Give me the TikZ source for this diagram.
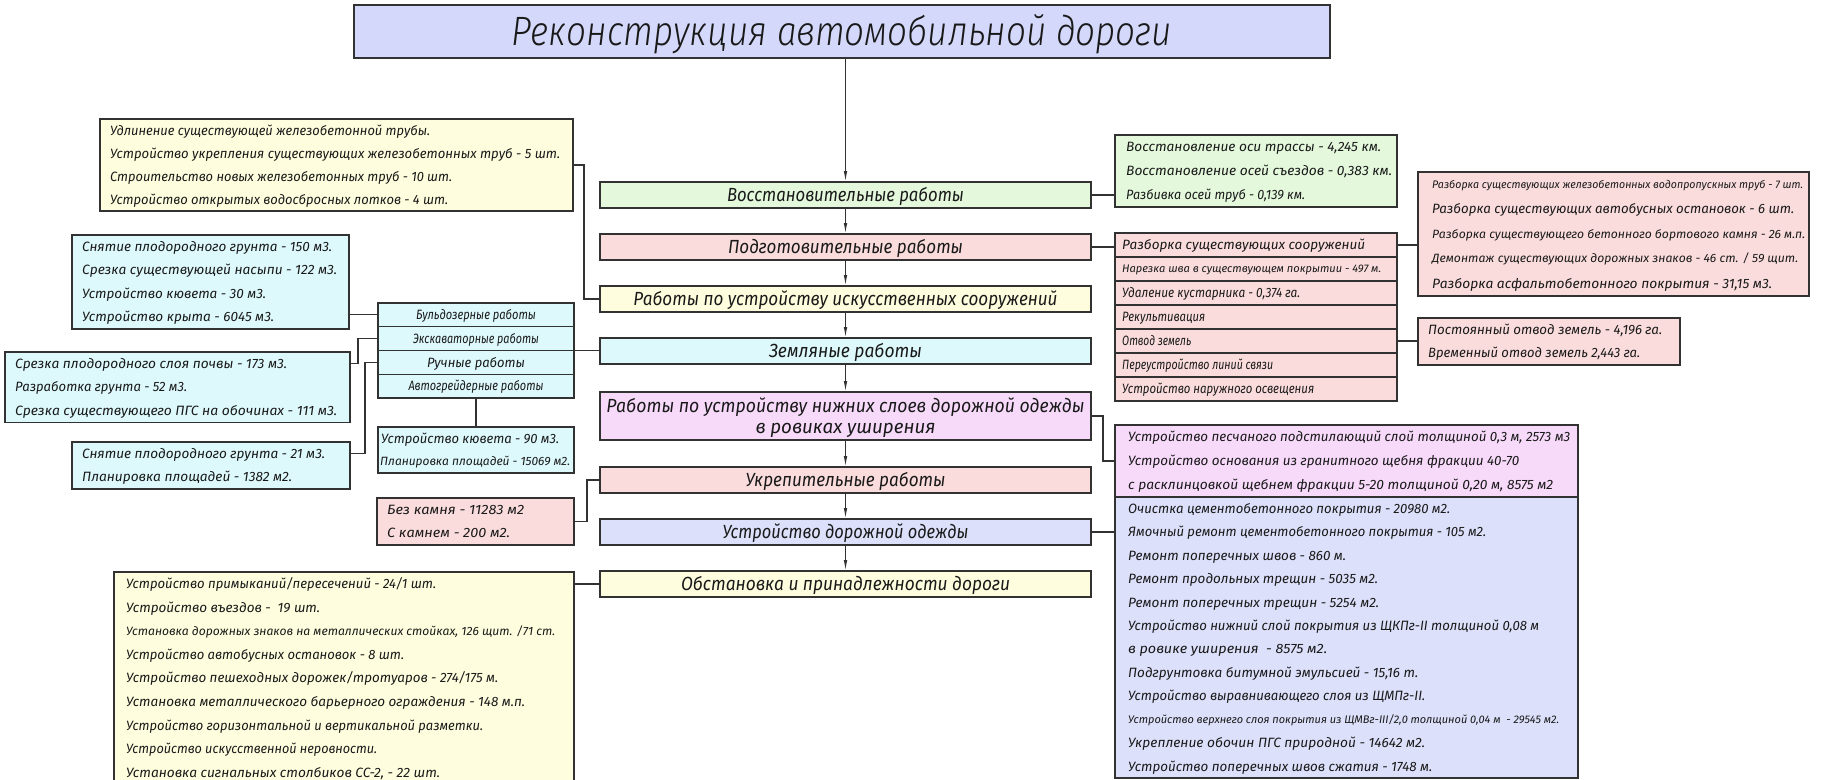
\documentclass[tikz,border=0pt]{standalone}
\usepackage{fontspec}
\usepackage{graphicx}
\IfFontExistsTF{Fira Sans Italic}{\setmainfont{Fira Sans Italic}}{\setmainfont{Fira Sans}[FakeSlant=0.2]}
\IfFontExistsTF{Fira Sans Light Italic}{\newfontfamily\lightf{Fira Sans Light Italic}}{\newfontfamily\lightf{Fira Sans}[FakeSlant=0.2]}
\usetikzlibrary{arrows.meta}
\definecolor{lc}{RGB}{50,50,50}
\definecolor{cti}{RGB}{212,216,250}
\definecolor{cgr}{RGB}{228,248,220}
\definecolor{cpk}{RGB}{250,220,220}
\definecolor{cye}{RGB}{254,254,222}
\definecolor{ccy}{RGB}{221,249,252}
\definecolor{cmg}{RGB}{247,218,250}
\definecolor{clv}{RGB}{220,224,250}
\definecolor{tc}{RGB}{25,25,25}
\newcommand\fw[2]{\resizebox{#1pt}{\height}{#2}}
\begin{document}
\begin{tikzpicture}[x=1pt,y=-1pt,
  bx/.style={draw=lc, line width=1.2pt, inner sep=0pt, outer sep=0pt, anchor=north west, rectangle},
  mtx/.style={font=\fontsize{19}{21}\selectfont, text height=13pt, text depth=0pt, text=tc, inner sep=0pt},
  ln/.style={inner sep=0pt, anchor=west, font=\fontsize{13.5}{15}\selectfont, text height=9.4pt, text depth=0pt, text=tc},
  sm/.style={ln, font=\fontsize{11}{13}\selectfont, text height=7.6pt},
  md/.style={ln, font=\fontsize{12}{14}\selectfont, text height=8.3pt},
  cell/.style={bx, minimum width=196, minimum height=23.75, font=\fontsize{13.5}{15}\selectfont, text height=9.4pt, text depth=0pt, text=tc},
  plcell/.style={bx, fill=cpk, minimum width=282, minimum height=24},
  con/.style={draw=lc, line width=1.2pt},
  arr/.style={con, -{Latex[length=11pt, width=3.6pt]}}
]
\useasboundingbox (0,0) rectangle (1822,779);
\fill[white] (0,0) rectangle (1822,779);

% title
\node[bx, fill=cti, minimum width=976, minimum height=53, font=\lightf\fontsize{41}{45}\selectfont, text height=28pt, text depth=0pt, text=tc] (T) at (354,5) {\fw{660}{Реконструкция автомобильной дороги}};

% main column
\node[bx, fill=cgr, minimum width=491, minimum height=26, mtx] (m1) at (600,182) {\fw{237}{Восстановительные работы}};
\node[bx, fill=cpk, minimum width=491, minimum height=26, mtx] (m2) at (600,234) {\fw{235}{Подготовительные работы}};
\node[bx, fill=cye, minimum width=491, minimum height=26, mtx] (m3) at (600,286) {\fw{424}{Работы по устройству искусственных сооружений}};
\node[bx, fill=ccy, minimum width=491, minimum height=26, mtx] (m4) at (600,338) {\fw{153}{Земляные работы}};
\node[bx, fill=cmg, minimum width=491, minimum height=48] (m5) at (600,392) {};
\node[mtx] (m5a) at (845.5,406) {\fw{478}{Работы по устройству нижних слоев дорожной одежды}};
\node[mtx] (m5b) at (845.5,427) {\fw{180}{в ровиках уширения}};
\node[bx, fill=cpk, minimum width=491, minimum height=26, mtx] (m6) at (600,467) {\fw{200}{Укрепительные работы}};
\node[bx, fill=clv, minimum width=491, minimum height=26, mtx] (m7) at (600,519) {\fw{246}{Устройство дорожной одежды}};
\node[bx, fill=cye, minimum width=491, minimum height=26, mtx] (m8) at (600,571) {\fw{329}{Обстановка и принадлежности дороги}};

\draw[arr] (T.south -| m1.north) -- (m1.north);
\draw[arr] (m1.south) -- (m2.north);
\draw[arr] (m2.south) -- (m3.north);
\draw[arr] (m3.south) -- (m4.north);
\draw[arr] (m4.south) -- (m5.north);
\draw[arr] (m5.south) -- (m6.north);
\draw[arr] (m6.south) -- (m7.north);
\draw[arr] (m7.south) -- (m8.north);

% left: artificial structures
\node[bx, fill=cye, minimum width=473, minimum height=92] (LY) at (100,119) {};
\node[ln] (ly1) at (110,130.5) {\fw{320}{Удлинение существующей железобетонной трубы.}};
\node[ln] (ly2) at (110,153.5) {\fw{450}{Устройство укрепления существующих железобетонных труб - 5 шт.}};
\node[ln] (ly3) at (110,176.5) {\fw{342}{Строительство новых железобетонных труб - 10 шт.}};
\node[ln] (ly4) at (110,199.5) {\fw{338}{Устройство открытых водосбросных лотков - 4 шт.}};
\draw[con] (LY.east) -- ++(11,0) |- (m3.west);

% left: earthworks
\node[cell, fill=ccy] (ew1) at (378,303) {\fw{120}{Бульдозерные работы}};
\node[cell, fill=ccy] (ew2) at (378,326.75) {\fw{126}{Экскаваторные работы}};
\node[cell, fill=ccy] (ew3) at (378,350.5) {\fw{98}{Ручные работы}};
\node[cell, fill=ccy] (ew4) at (378,374.25) {\fw{135}{Автогрейдерные работы}};
\draw[con] (ew2.south east) -- (ew2.south east -| m4.west);

\node[bx, fill=ccy, minimum width=277, minimum height=94] (CB1) at (72,235) {};
\node[ln] (cb1a) at (82,246.75) {\fw{250}{Снятие плодородного грунта - 150 м3.}};
\node[ln] (cb1b) at (82,270.25) {\fw{255}{Срезка существующей насыпи - 122 м3.}};
\node[ln] (cb1c) at (82,293.75) {\fw{184}{Устройство кювета - 30 м3.}};
\node[ln] (cb1d) at (82,317.25) {\fw{192}{Устройство крыта - 6045 м3.}};
\draw[con] (ew1.west) -- (ew1.west -| CB1.east);

\node[bx, fill=ccy, minimum width=345, minimum height=70.5] (CB2) at (5,352) {};
\node[ln] (cb2a) at (15,363.75) {\fw{272}{Срезка плодородного слоя почвы - 173 м3.}};
\node[ln] (cb2b) at (15,387.25) {\fw{172}{Разработка грунта - 52 м3.}};
\node[ln] (cb2c) at (15,410.75) {\fw{322}{Срезка существующего ПГС на обочинах - 111 м3.}};
\draw[con] (ew2.west) -- ++(-20,0) |- (cb2a -| CB2.east);

\node[bx, fill=ccy, minimum width=278, minimum height=47] (CB3) at (72,442) {};
\node[ln] (cb3a) at (82,453.75) {\fw{243}{Снятие плодородного грунта - 21 м3.}};
\node[ln] (cb3b) at (82,477.25) {\fw{210}{Планировка площадей - 1382 м2.}};
\draw[con] (ew3.west) -- ++(-13,0) |- (cb3a -| CB3.east);

\node[bx, fill=ccy, minimum width=196, minimum height=46] (CB4) at (378,427) {};
\node[ln] (cb4a) at (381,438.5) {\fw{178}{Устройство кювета - 90 м3.}};
\node[md] (cb4b) at (380,461.5) {\fw{190}{Планировка площадей - 15069 м2.}};
\draw[con] (ew4.south) -- (CB4.north);

% left: strengthening
\node[bx, fill=cpk, minimum width=197, minimum height=47] (PB) at (377,498) {};
\node[ln] (pba) at (387,509.75) {\fw{137}{Без камня - 11283 м2}};
\node[ln] (pbb) at (387,533.25) {\fw{123}{С камнем - 200 м2.}};
\draw[con] (PB.east) -- ++(13,0) |- (m6.west);

% left: road furniture
\node[bx, fill=cye, minimum width=460, minimum height=213] (YB) at (114,572) {};
\node[ln] (yb1) at (126,583.8) {\fw{310}{Устройство примыканий/пересечений - 24/1 шт.}};
\node[ln] (yb2) at (126,607.4) {\fw{194}{Устройство въездов -~~19 шт.}};
\node[md] (yb3) at (126,631) {\fw{429}{Установка дорожных знаков на металлических стойках, 126 щит. /71 ст.}};
\node[ln] (yb4) at (126,654.6) {\fw{278}{Устройство автобусных остановок - 8 шт.}};
\node[ln] (yb5) at (126,678.2) {\fw{372}{Устройство пешеходных дорожек/тротуаров - 274/175 м.}};
\node[ln] (yb6) at (126,701.8) {\fw{399}{Установка металлического барьерного ограждения - 148 м.п.}};
\node[ln] (yb7) at (126,725.4) {\fw{357}{Устройство горизонтальной и вертикальной разметки.}};
\node[ln] (yb8) at (126,749) {\fw{251}{Устройство искусственной неровности.}};
\node[ln] (yb9) at (126,772.6) {\fw{314}{Установка сигнальных столбиков СС-2, - 22 шт.}};
\draw[con] (m8.west) -- (m8.west -| YB.east);

% right: restoration
\node[bx, fill=cgr, minimum width=282, minimum height=72] (GR) at (1115,135) {};
\node[ln] (gr1) at (1126,147) {\fw{255}{Восстановление оси трассы - 4,245 км.}};
\node[ln] (gr2) at (1126,171) {\fw{266}{Восстановление осей съездов - 0,383 км.}};
\node[ln] (gr3) at (1126,195) {\fw{179}{Разбивка осей труб - 0,139 км.}};
\draw[con] (m1.east) -- (m1.east -| GR.west);

% right: preparatory
\node[plcell] (pl1) at (1115,233) {};
\node[plcell] (pl2) at (1115,257) {};
\node[plcell] (pl3) at (1115,281) {};
\node[plcell] (pl4) at (1115,305) {};
\node[plcell] (pl5) at (1115,329) {};
\node[plcell] (pl6) at (1115,353) {};
\node[plcell] (pl7) at (1115,377) {};
\node[ln] (plt1) at (1122,245) {\fw{243}{Разборка существующих сооружений}};
\node[sm] (plt2) at (1122,269) {\fw{259}{Нарезка шва в существующем покрытии - 497 м.}};
\node[ln] (plt3) at (1122,293) {\fw{178}{Удаление кустарника - 0,374 га.}};
\node[ln] (plt4) at (1122,317) {\fw{83}{Рекультивация}};
\node[ln] (plt5) at (1122,341) {\fw{69}{Отвод земель}};
\node[ln] (plt6) at (1122,365) {\fw{151}{Переустройство линий связи}};
\node[ln] (plt7) at (1122,389) {\fw{192}{Устройство наружного освещения}};
\draw[con] (m2.east) -- (m2.east -| pl1.west);

\node[bx, fill=cpk, minimum width=391, minimum height=124] (PT) at (1418,172) {};
\node[sm] (pt1) at (1432,184.4) {\fw{371}{Разборка существующих железобетонных водопропускных труб - 7 шт.}};
\node[ln] (pt2) at (1432,209.2) {\fw{362}{Разборка существующих автобусных остановок - 6 шт.}};
\node[md] (pt3) at (1432,234) {\fw{373}{Разборка существующего бетонного бортового камня - 26 м.п.}};
\node[md] (pt4) at (1432,258.8) {\fw{366}{Демонтаж существующих дорожных знаков - 46 ст. / 59 щит.}};
\node[ln] (pt5) at (1432,283.6) {\fw{340}{Разборка асфальтобетонного покрытия - 31,15 м3.}};
\draw[con] (pl1.east) -- (pl1.east -| PT.west);

\node[bx, fill=cpk, minimum width=262, minimum height=47] (LB) at (1418,318) {};
\node[ln] (lb1) at (1428,329.75) {\fw{234}{Постоянный отвод земель - 4,196 га.}};
\node[ln] (lb2) at (1428,353.25) {\fw{212}{Временный отвод земель 2,443 га.}};
\draw[con] (pl5.east) -- (pl5.east -| LB.west);

% right: lower layers
\node[bx, fill=cmg, minimum width=463, minimum height=72] (MB) at (1115,425) {};
\node[ln] (mb1) at (1128,437) {\fw{442}{Устройство песчаного подстилающий слой толщиной 0,3 м, 2573 м3}};
\node[ln] (mb2) at (1128,461) {\fw{391}{Устройство основания из гранитного щебня фракции 40-70}};
\node[ln] (mb3) at (1128,485) {\fw{425}{с расклинцовкой щебнем фракции 5-20 толщиной 0,20 м, 8575 м2}};
\draw[con] (m5.east) -- ++(12,0) |- (mb2 -| MB.west);

% right: pavement
\node[bx, fill=clv, minimum width=463, minimum height=281] (LV) at (1115,497) {};
\node[ln] (lv1) at (1128,508.7) {\fw{322}{Очистка цементобетонного покрытия - 20980 м2.}};
\node[ln] (lv2) at (1128,532.1) {\fw{358}{Ямочный ремонт цементобетонного покрытия - 105 м2.}};
\node[ln] (lv3) at (1128,555.5) {\fw{218}{Ремонт поперечных швов - 860 м.}};
\node[ln] (lv4) at (1128,578.9) {\fw{250}{Ремонт продольных трещин - 5035 м2.}};
\node[ln] (lv5) at (1128,602.4) {\fw{251}{Ремонт поперечных трещин - 5254 м2.}};
\node[ln] (lv6) at (1128,625.8) {\fw{411}{Устройство нижний слой покрытия из ЩКПг-II толщиной 0,08 м}};
\node[ln] (lv7) at (1128,649.2) {\fw{199}{в ровике уширения~~- 8575 м2.}};
\node[ln] (lv8) at (1128,672.6) {\fw{290}{Подгрунтовка битумной эмульсией - 15,16 т.}};
\node[ln] (lv9) at (1128,696.1) {\fw{297}{Устройство выравнивающего слоя из ЩМПг-II.}};
\node[sm] (lv10) at (1128,719.5) {\fw{431}{Устройство верхнего слоя покрытия из ЩМВг-III/2,0 толщиной 0,04 м~~- 29545 м2.}};
\node[ln] (lv11) at (1128,742.9) {\fw{297}{Укрепление обочин ПГС природной - 14642 м2.}};
\node[ln] (lv12) at (1128,766.3) {\fw{304}{Устройство поперечных швов сжатия - 1748 м.}};
\draw[con] (m7.east) -- (m7.east -| LV.west);
\end{tikzpicture}
\end{document}
